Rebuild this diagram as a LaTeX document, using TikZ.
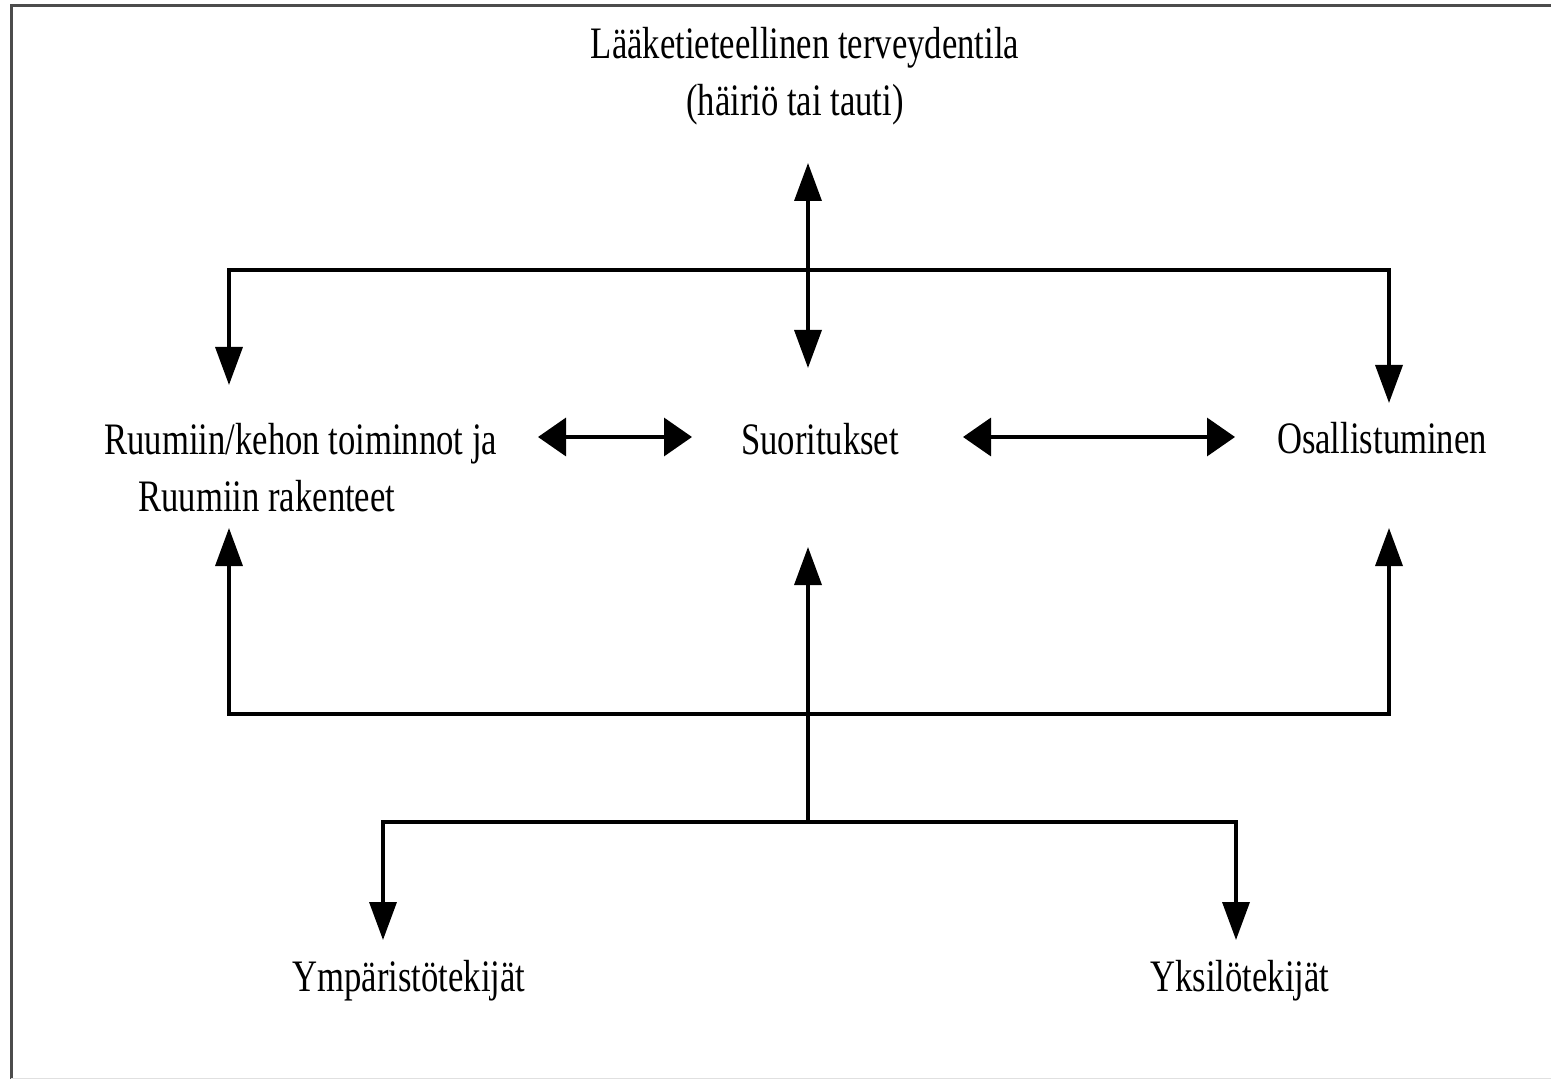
\documentclass[tikz,border=0pt]{standalone}
\usepackage{fontspec}
\setmainfont{Liberation Serif}[FakeStretch=0.77]
\usepackage{tikz}
\usetikzlibrary{arrows.meta,positioning,calc}

\begin{document}
\begin{tikzpicture}[x=0.5pt, y=-0.5pt, >=Latex]
\tikzstyle{lbl}=[inner sep=0pt, font=\fontsize{22.5}{28.5}\selectfont]
\tikzstyle{ln}=[line width=1.75pt]
\tikzstyle{varr}=[ln, -{Triangle[length=19pt,width=13.5pt]}]
\tikzstyle{vdbl}=[ln, {Triangle[length=19pt,width=13.5pt]}-{Triangle[length=19pt,width=13.5pt]}]
\tikzstyle{hdbl}=[ln, {Triangle[length=14pt,width=19pt]}-{Triangle[length=14pt,width=19pt]}]

\useasboundingbox (0,0) rectangle (1551,1079);
\draw[line width=1.5pt, black!70] (11,1079) -- (11,6) -- (1551,6);
\draw[black!12] (11,1078) -- (1551,1078);

\node[lbl, align=center] (health) at (805,76) {Lääketieteellinen terveydentila\\(häiriö tai tauti)\hspace*{10pt}};
\node[lbl, align=left, anchor=west] (body) at (104,468) {Ruumiin/kehon toiminnot ja\\\hspace*{17pt}Ruumiin rakenteet};
\node[lbl, anchor=base] (act) at (820,455) {Suoritukset};
\node[lbl, anchor=base] (part) at (1382,454) {Osallistuminen};
\node[lbl, anchor=base] (env) at (409,991) {Ympäristötekijät};
\node[lbl, anchor=base] (pers) at (1240,991) {Yksilötekijät};

% arrow ends
\coordinate (hTip) at (808,163);
\coordinate (aTop) at (808,368);
\coordinate (aBot) at (808,547);
\coordinate (cJ) at (808,822);
\coordinate (bTop) at (229,385);
\coordinate (bBot) at (229,528);
\coordinate (pTop) at (1389,403);
\coordinate (pBot) at (1389,528);
\coordinate (bR) at (538,437);
\coordinate (aL) at (692,437);
\coordinate (aR) at (963,437);
\coordinate (pL) at (1235,437);
\coordinate (envTip) at (383,940);
\coordinate (persTip) at (1236,940);

\draw[vdbl] (hTip) -- (aTop);
\draw[vdbl] (bTop) -- (bTop |- 0,270) -- (pTop |- 0,270) -- (pTop);
\draw[hdbl] (bR) -- (aL);
\draw[hdbl] (aR) -- (pL);
\draw[vdbl] (bBot) -- (bBot |- 0,714) -- (pBot |- 0,714) -- (pBot);
\draw[varr] (cJ) -- (aBot);
\draw[vdbl] (envTip) -- (envTip |- cJ) -- (persTip |- cJ) -- (persTip);

\end{tikzpicture}
\end{document}
